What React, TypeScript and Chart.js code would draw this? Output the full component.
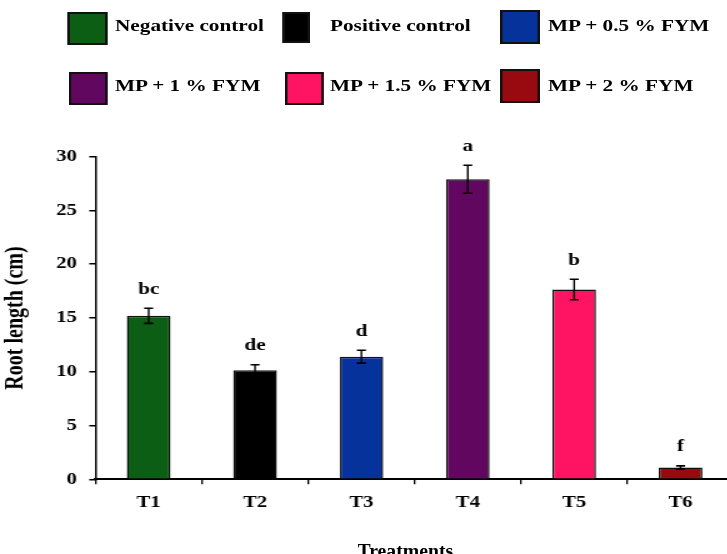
import React, { useEffect, useRef } from "react";
import { Chart, registerables } from "chart.js";

Chart.register(...registerables);

const categories = ["T1", "T2", "T3", "T4", "T5", "T6"];
const seriesNames = [
  "Negative control",
  "Positive control",
  "MP + 0.5 % FYM",
  "MP + 1 % FYM",
  "MP + 1.5 % FYM",
  "MP + 2 % FYM",
];
const rootLength = [15.2, 10.15, 11.4, 27.9, 17.65, 1.1];
const errorValues = [0.7, 0.5, 0.6, 1.3, 0.95, 0.15];
const letters = ["bc", "de", "d", "a", "b", "f"];
const barColors = ["#0b5e13", "#000000", "#05339b", "#62075f", "#ff1464", "#990a10"];
const yMin = 0;
const yMax = 30;
const yStep = 5;

const SX = 1.25; // horizontal stretch of the original figure
const FONT = "'Liberation Serif', 'Times New Roman', serif";

// legend layout (final px converted to internal by /SX)
const legendLayout = [
  { bx: 67, bw: 41, by: 12, bh: 33, tx: 115, ty: 16 },
  { bx: 283, bw: 27, by: 12, bh: 31, tx: 330, ty: 16 },
  { bx: 500, bw: 40, by: 10, bh: 34, tx: 548, ty: 16 },
  { bx: 69, bw: 39, by: 72, bh: 33, tx: 115, ty: 76 },
  { bx: 285, bw: 39, by: 72, bh: 33, tx: 330, ty: 76 },
  { bx: 500, bw: 40, by: 69, bh: 34, tx: 548, ty: 76 },
];

const errorPlugin = {
  id: "errorBarsLetters",
  afterDatasetsDraw(chart: any) {
    const ctx = chart.ctx;
    const meta = chart.getDatasetMeta(0);
    const ys = chart.scales.y;
    ctx.save();
    meta.data.forEach((bar: any, i: number) => {
      const x = bar.x;
      const v = rootLength[i];
      const e = errorValues[i];
      const yt = ys.getPixelForValue(v + e);
      const yb = ys.getPixelForValue(v - e);
      ctx.strokeStyle = "#000";
      ctx.lineWidth = 1.4;
      ctx.beginPath();
      ctx.moveTo(x, yt);
      ctx.lineTo(x, yb);
      ctx.stroke();
      ctx.lineWidth = 1.6;
      ctx.beginPath();
      ctx.moveTo(x - 3.6, yt);
      ctx.lineTo(x + 3.6, yt);
      ctx.moveTo(x - 3.6, yb);
      ctx.lineTo(x + 3.6, yb);
      ctx.stroke();
      ctx.fillStyle = "#000";
      ctx.font = `bold 17px ${FONT}`;
      ctx.textAlign = "center";
      ctx.textBaseline = "middle";
      ctx.fillText(letters[i], x, yt - 19);
    });
    ctx.restore();
  },
};

export default function App() {
  const canvasRef = useRef<HTMLCanvasElement | null>(null);

  useEffect(() => {
    if (!canvasRef.current) return;
    const chart = new Chart(canvasRef.current, {
      type: "bar",
      data: {
        labels: categories,
        datasets: [
          {
            label: "Root length (cm)",
            data: rootLength,
            backgroundColor: barColors,
            borderColor: "#111",
            borderWidth: 1.5,
            barPercentage: 0.41,
            categoryPercentage: 1,
          },
        ],
      },
      options: {
        animation: false,
        responsive: false,
        maintainAspectRatio: false,
        devicePixelRatio: 1,
        layout: { padding: { top: 156.7, left: 0, right: 0, bottom: 0 } },
        plugins: {
          legend: { display: false },
          tooltip: { enabled: false },
          title: { display: false },
        },
        scales: {
          x: {
            type: "category",
            offset: true,
            afterFit: (s: any) => {
              s.height = 74.7;
            },
            grid: {
              display: true,
              offset: true,
              drawOnChartArea: false,
              drawTicks: true,
              tickLength: 5,
              color: "#000",
              lineWidth: 1.3,
            },
            border: { display: true, color: "#000", width: 2 },
            ticks: {
              color: "#000",
              padding: 9,
              font: { family: FONT, size: 16.5, weight: "bold" },
              maxRotation: 0,
              autoSkip: false,
            },
          },
          y: {
            min: yMin,
            max: yMax,
            afterFit: (s: any) => {
              s.width = 76.4;
            },
            grid: {
              display: true,
              drawOnChartArea: false,
              drawTicks: true,
              tickLength: 5,
              color: "#000",
              lineWidth: 1.5,
            },
            border: { display: true, color: "#000", width: 1.5 },
            ticks: {
              stepSize: yStep,
              color: "#000",
              padding: 10,
              font: { family: FONT, size: 16.5, weight: "bold" },
            },
            title: {
              display: true,
              text: "Root length (cm)",
              color: "#000",
              padding: { top: 1, bottom: 0 },
              font: { family: FONT, size: 20, weight: "bold" },
            },
          },
        },
      },
      plugins: [errorPlugin],
    } as any);
    return () => chart.destroy();
  }, []);

  return (
    <div
      style={{
        position: "fixed",
        left: 0,
        top: 0,
        width: 727,
        height: 554,
        overflow: "hidden",
        background: "#fff",
      }}
    >
      <div
        style={{
          position: "absolute",
          left: 0,
          top: 0,
          width: 587,
          height: 554,
          transform: `scaleX(${SX})`,
          transformOrigin: "0 0",
        }}
      >
        <canvas ref={canvasRef} width={587} height={554} style={{ display: "block" }} />
        {legendLayout.map((l, i) => (
          <React.Fragment key={i}>
            <div
              style={{
                position: "absolute",
                left: l.bx / SX,
                top: l.by,
                width: l.bw / SX,
                height: l.bh,
                boxSizing: "border-box",
                background: barColors[i],
                border: "2px solid #111",
              }}
            />
            <div
              style={{
                position: "absolute",
                left: l.tx / SX,
                top: l.ty,
                fontFamily: FONT,
                fontWeight: "bold",
                fontSize: 17,
                lineHeight: "20px",
                whiteSpace: "nowrap",
                color: "#000",
              }}
            >
              {seriesNames[i]}
            </div>
          </React.Fragment>
        ))}
        <div
          style={{
            position: "absolute",
            left: 358 / SX,
            top: 540,
            fontFamily: FONT,
            fontWeight: "bold",
            fontSize: 19,
            lineHeight: "22px",
            whiteSpace: "nowrap",
            color: "#000",
            transform: "scaleX(0.83)",
            transformOrigin: "0 0",
          }}
        >
          Treatments
        </div>
      </div>
    </div>
  );
}
